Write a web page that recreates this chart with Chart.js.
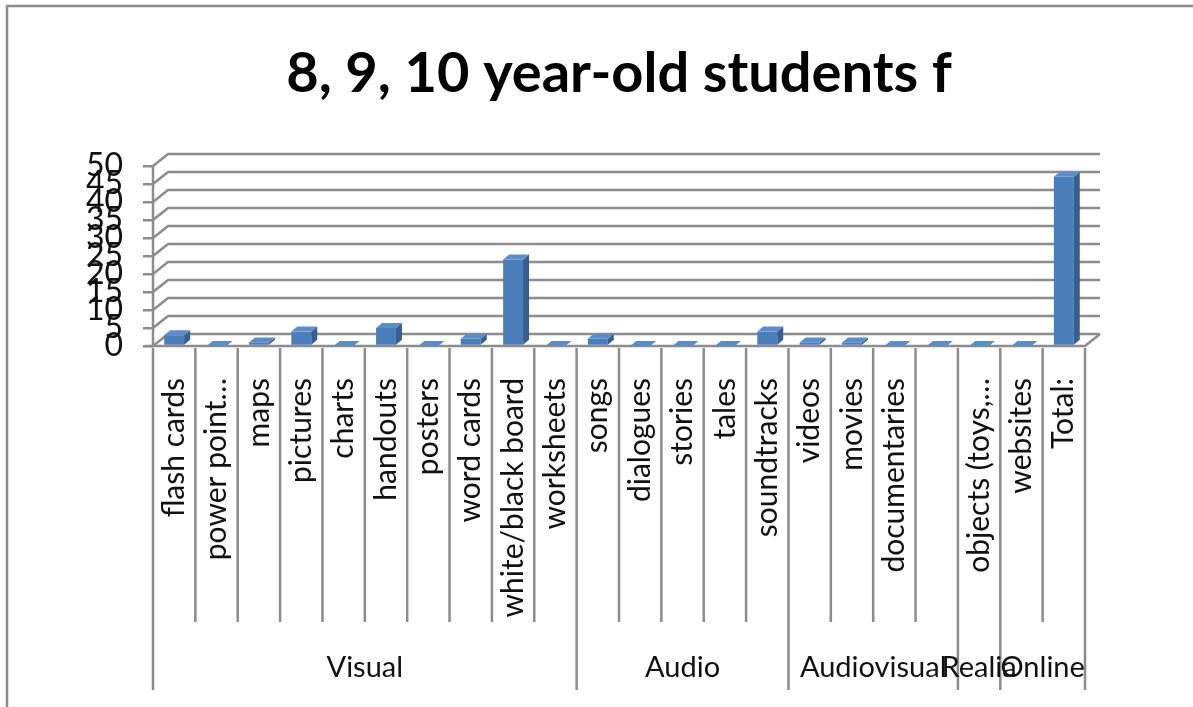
<!DOCTYPE html>
<html>
<head>
<meta charset="utf-8">
<script src="https://cdn.jsdelivr.net/npm/chart.js@4.4.1/dist/chart.umd.min.js"></script>
<style>
  html, body { margin: 0; padding: 0; background: #fff; }
  #wrap { position: relative; width: 1193px; height: 707px; }
</style>
</head>
<body>
<div id="wrap"><canvas id="chart" width="1193" height="707"></canvas></div>
<script>
// data
var categories = ['flash cards', 'power point\u2026', 'maps', 'pictures', 'charts', 'handouts', 'posters',
  'word cards', 'white/black board', 'worksheets', 'songs', 'dialogues', 'stories', 'tales',
  'soundtracks', 'videos', 'movies', 'documentaries', '', 'objects (toys,\u2026', 'websites', 'Total:'];
var counts = [3, 0, 1, 4, 0, 5, 0, 2, 24, 0, 2, 0, 0, 0, 4, 1, 1, 0, 0, 0, 0, 47];
var groupNames = ['Visual', 'Audio', 'Audiovisual', 'Realia', 'Online'];
var groupSizes = [10, 5, 4, 1, 2];
var yMin = 0, yMax = 50, yStep = 5;

var font = 'Lato, "Open Sans", sans-serif';
var lineGrey = '#8c8c8c';
var barFront = '#4a7ebb';
var barTop = '#5b8dca';
var barSide = '#355f90';

// back wall offset and bar depth (fake 3d)
var wallDx = 15, wallDy = -12;
var barDx = 6, barDy = -5;

var framePlugin = {
  id: 'frame',
  beforeDraw: function(chart) {
    var ctx = chart.ctx;
    ctx.save();
    ctx.fillStyle = '#fff';
    ctx.fillRect(0, 0, chart.width, chart.height);
    ctx.strokeStyle = '#8c8c8c';
    ctx.lineWidth = 2.5;
    ctx.beginPath();
    ctx.moveTo(7, chart.height);
    ctx.lineTo(7, 6);
    ctx.lineTo(chart.width, 6);
    ctx.stroke();
    ctx.restore();
  }
};

var wallPlugin = {
  id: 'wall',
  beforeDatasetsDraw: function(chart) {
    var ctx = chart.ctx, a = chart.chartArea, y = chart.scales.y;
    ctx.save();
    ctx.strokeStyle = lineGrey;
    ctx.lineWidth = 2.5;
    y.ticks.forEach(function(t) {
      var py = y.getPixelForValue(t.value);
      ctx.beginPath();
      ctx.moveTo(a.left, py);
      ctx.lineTo(a.left + wallDx, py + wallDy);
      ctx.lineTo(a.right + wallDx, py + wallDy);
      ctx.stroke();
    });
    // floor edges
    var p0 = y.getPixelForValue(0);
    ctx.beginPath();
    ctx.moveTo(a.left - 8, p0);
    ctx.lineTo(a.right, p0);
    ctx.lineTo(a.right + wallDx, p0 + wallDy);
    ctx.stroke();
    // front axis line
    ctx.beginPath();
    ctx.moveTo(a.left, y.getPixelForValue(yMax));
    ctx.lineTo(a.left, p0);
    ctx.stroke();
    ctx.restore();
  },
  afterDatasetsDraw: function(chart) {
    var ctx = chart.ctx;
    ctx.save();
    chart.getDatasetMeta(0).data.forEach(function(bar) {
      var p = bar.getProps(['x', 'y', 'base', 'width'], true);
      var l = p.x - p.width / 2, r = p.x + p.width / 2;
      ctx.fillStyle = barSide;
      ctx.beginPath();
      ctx.moveTo(r, p.y);
      ctx.lineTo(r + barDx, p.y + barDy);
      ctx.lineTo(r + barDx, p.base + barDy);
      ctx.lineTo(r, p.base);
      ctx.closePath();
      ctx.fill();
      ctx.fillStyle = barTop;
      ctx.beginPath();
      ctx.moveTo(l, p.y);
      ctx.lineTo(l + barDx, p.y + barDy);
      ctx.lineTo(r + barDx, p.y + barDy);
      ctx.lineTo(r, p.y);
      ctx.closePath();
      ctx.fill();
    });
    ctx.restore();
  }
};

var groupPlugin = {
  id: 'groups',
  afterDraw: function(chart) {
    var ctx = chart.ctx, x = chart.scales.x, a = chart.chartArea;
    var w = x.getPixelForValue(1) - x.getPixelForValue(0);
    var top = a.bottom + 2, catBottom = 622, groupBottom = 690;
    var starts = [0];
    groupSizes.forEach(function(s, i) { starts.push(starts[i] + s); });

    ctx.save();
    ctx.strokeStyle = lineGrey;
    ctx.lineWidth = 2.5;
    for (var i = 0; i <= categories.length; i++) {
      var px = x.getPixelForValue(i) - w / 2;
      ctx.beginPath();
      ctx.moveTo(px, top);
      ctx.lineTo(px, starts.indexOf(i) >= 0 ? groupBottom : catBottom);
      ctx.stroke();
    }
    ctx.fillStyle = '#111';
    ctx.font = '29px ' + font;
    ctx.textAlign = 'center';
    ctx.textBaseline = 'middle';
    groupNames.forEach(function(g, i) {
      var x0 = x.getPixelForValue(starts[i]) - w / 2;
      var x1 = x.getPixelForValue(starts[i + 1]) - w / 2;
      ctx.fillText(g, (x0 + x1) / 2, 668);
    });
    ctx.restore();
  }
};

new Chart(document.getElementById('chart'), {
  type: 'bar',
  data: {
    labels: categories,
    datasets: [{
      data: counts,
      backgroundColor: barFront,
      borderWidth: 0,
      barPercentage: 0.47,
      categoryPercentage: 1
    }]
  },
  options: {
    responsive: false,
    animation: false,
    events: [],
    layout: { padding: { left: 10, right: 108, top: 0, bottom: 85 } },
    plugins: {
      legend: { display: false },
      tooltip: { enabled: false },
      title: {
        display: true,
        fullSize: false,
        text: '8, 9, 10 year-old students f',
        color: '#000',
        font: { family: font, size: 56, weight: 'bold', lineHeight: 1.2 },
        padding: { top: 40, bottom: 58.8 }
      }
    },
    scales: {
      x: {
        grid: { display: false },
        border: { display: false },
        ticks: {
          autoSkip: false,
          minRotation: 90,
          maxRotation: 90,
          padding: 24,
          color: '#111',
          font: { family: font, size: 30 }
        },
        afterFit: function(s) { s.height = 276; }
      },
      y: {
        min: yMin,
        max: yMax,
        grid: { display: true, drawOnChartArea: false, tickLength: 10, color: lineGrey, lineWidth: 2.5 },
        border: { display: false },
        ticks: {
          stepSize: yStep,
          autoSkip: false,
          padding: 20,
          color: '#111',
          font: { family: font, size: 32 }
        },
        afterFit: function(s) { s.width = 143; }
      }
    }
  },
  plugins: [framePlugin, wallPlugin, groupPlugin]
});
</script>
</body>
</html>
